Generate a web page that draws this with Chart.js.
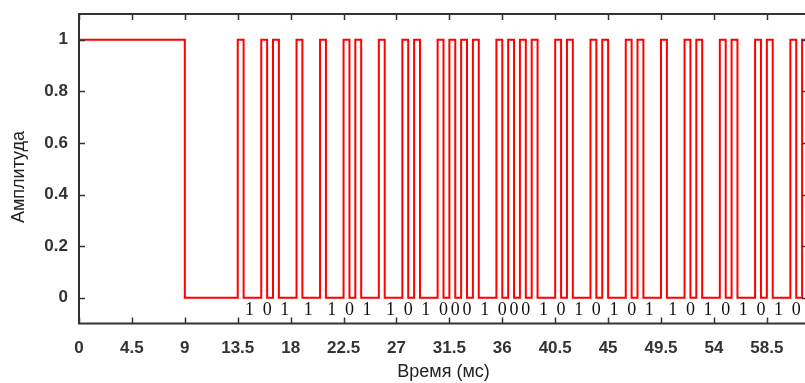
<!DOCTYPE html>
<html>
<head>
<meta charset="utf-8">
<script src="https://cdn.jsdelivr.net/npm/chart.js@4.4.1/dist/chart.umd.min.js"></script>
<style>
  html, body { margin: 0; padding: 0; background: #fff; overflow: hidden; }
  canvas { display: block; }
</style>
</head>
<body>
<canvas id="irChart" width="812" height="383"></canvas>
<script>
// leader pulse is high from 0 until this time (ms)
const leaderEnd = 9;
const pulseWidth = 0.5;
// rising edges of the short pulses (ms)
const pulseStarts = [13.5, 15.5, 16.5, 18.5, 20.5, 22.5, 23.5, 25.5, 27.5, 28.5,
  30.5, 31.5, 32.5, 33.5, 35.5, 36.5, 37.5, 38.5, 40.5, 41.5,
  43.5, 44.5, 46.5, 47.5, 49.5, 51.5, 52.5, 54.5, 55.5, 57.5,
  58.5, 60.5, 61.5];
// bit written under each gap between two pulses
const bits = ['1', '0', '1', '1', '1', '0', '1', '1',
  '0', '1', '0', '0', '0', '1', '0', '0',
  '0', '1', '0', '1', '0', '1', '0', '1',
  '1', '0', '1', '0', '1', '0', '1', '0'];
const xTicks = [0, 4.5, 9, 13.5, 18, 22.5, 27, 31.5, 36, 40.5, 45, 49.5, 54, 58.5];
const yTicks = [0, 0.2, 0.4, 0.6, 0.8, 1];
const xMax = 62;
const bitRowY = -0.05;
const yTitle = 'Амплитуда';

// build step points: each point's value holds until the next one
const points = [{x: 0, y: 1}, {x: leaderEnd, y: 0}];
pulseStarts.forEach(t => {
    points.push({x: t, y: 1});
    points.push({x: t + pulseWidth, y: 0});
});

// box frame with inward ticks, bit labels and the y title
const framePlugin = {
    id: 'frame',
    afterDatasetsDraw(chart) {
        const {ctx, chartArea: a, scales: {x, y}} = chart;
        ctx.save();
        ctx.strokeStyle = '#333';
        ctx.lineWidth = 2;
        ctx.strokeRect(a.left, a.top, a.right - a.left, a.bottom - a.top);

        ctx.lineWidth = 1.5;
        ctx.beginPath();
        xTicks.forEach(v => {
            const px = Math.round(x.getPixelForValue(v)) + 0.5;
            ctx.moveTo(px, a.bottom); ctx.lineTo(px, a.bottom - 6);
            ctx.moveTo(px, a.top); ctx.lineTo(px, a.top + 6);
        });
        yTicks.forEach(v => {
            const py = Math.round(y.getPixelForValue(v)) + 0.5;
            ctx.moveTo(a.left, py); ctx.lineTo(a.left + 6, py);
            ctx.moveTo(a.right, py); ctx.lineTo(a.right - 6, py);
        });
        ctx.stroke();

        ctx.fillStyle = '#111';
        ctx.font = '18px "Liberation Serif"';
        ctx.textAlign = 'center';
        ctx.textBaseline = 'middle';
        const py = y.getPixelForValue(bitRowY);
        bits.forEach((b, i) => {
            const mid = (pulseStarts[i] + pulseStarts[i + 1]) / 2;
            ctx.fillText(b, x.getPixelForValue(mid), py);
        });

        ctx.fillStyle = '#222';
        ctx.font = '18px "Liberation Sans"';
        ctx.translate(19, 177);
        ctx.rotate(-Math.PI / 2);
        ctx.fillText(yTitle, 0, 0);
        ctx.restore();
    }
};

const tickFont = {family: 'Liberation Sans', size: 17, weight: 'bold'};
const titleFont = {family: 'Liberation Sans', size: 18};

const ctx = document.getElementById('irChart').getContext('2d');
new Chart(ctx, {
    type: 'line',
    data: {
        datasets: [{
            data: points,
            borderColor: '#ff0000',
            borderWidth: 2,
            pointRadius: 0,
            stepped: true,
            fill: false
        }]
    },
    options: {
        responsive: false,
        animation: false,
        layout: {padding: {top: 14, right: 4, left: 0, bottom: 0}},
        plugins: {legend: {display: false}, tooltip: {enabled: false}},
        scales: {
            x: {
                type: 'linear',
                min: 0,
                max: xMax,
                grid: {display: false, drawTicks: false},
                border: {display: false},
                afterBuildTicks: s => { s.ticks = xTicks.map(v => ({value: v})); },
                afterFit: s => { s.height = 59.5; },
                ticks: {
                    autoSkip: false,
                    maxRotation: 0,
                    padding: 15,
                    color: '#333',
                    font: tickFont,
                    callback: v => String(v)
                },
                title: {
                    display: true,
                    text: 'Время (мс)',
                    color: '#222',
                    font: titleFont,
                    padding: {top: 0, bottom: 0}
                }
            },
            y: {
                min: -0.1,
                max: 1.1,
                grid: {display: false, drawTicks: false},
                border: {display: false},
                afterBuildTicks: s => { s.ticks = yTicks.map(v => ({value: v})); },
                afterFit: s => {
                    s.width = 79;
                    s.paddingTop = 0;
                    s.paddingBottom = 0;
                },
                ticks: {
                    padding: 11,
                    color: '#333',
                    font: tickFont,
                    callback: v => String(v)
                }
            }
        }
    },
    plugins: [framePlugin]
});
</script>
</body>
</html>
